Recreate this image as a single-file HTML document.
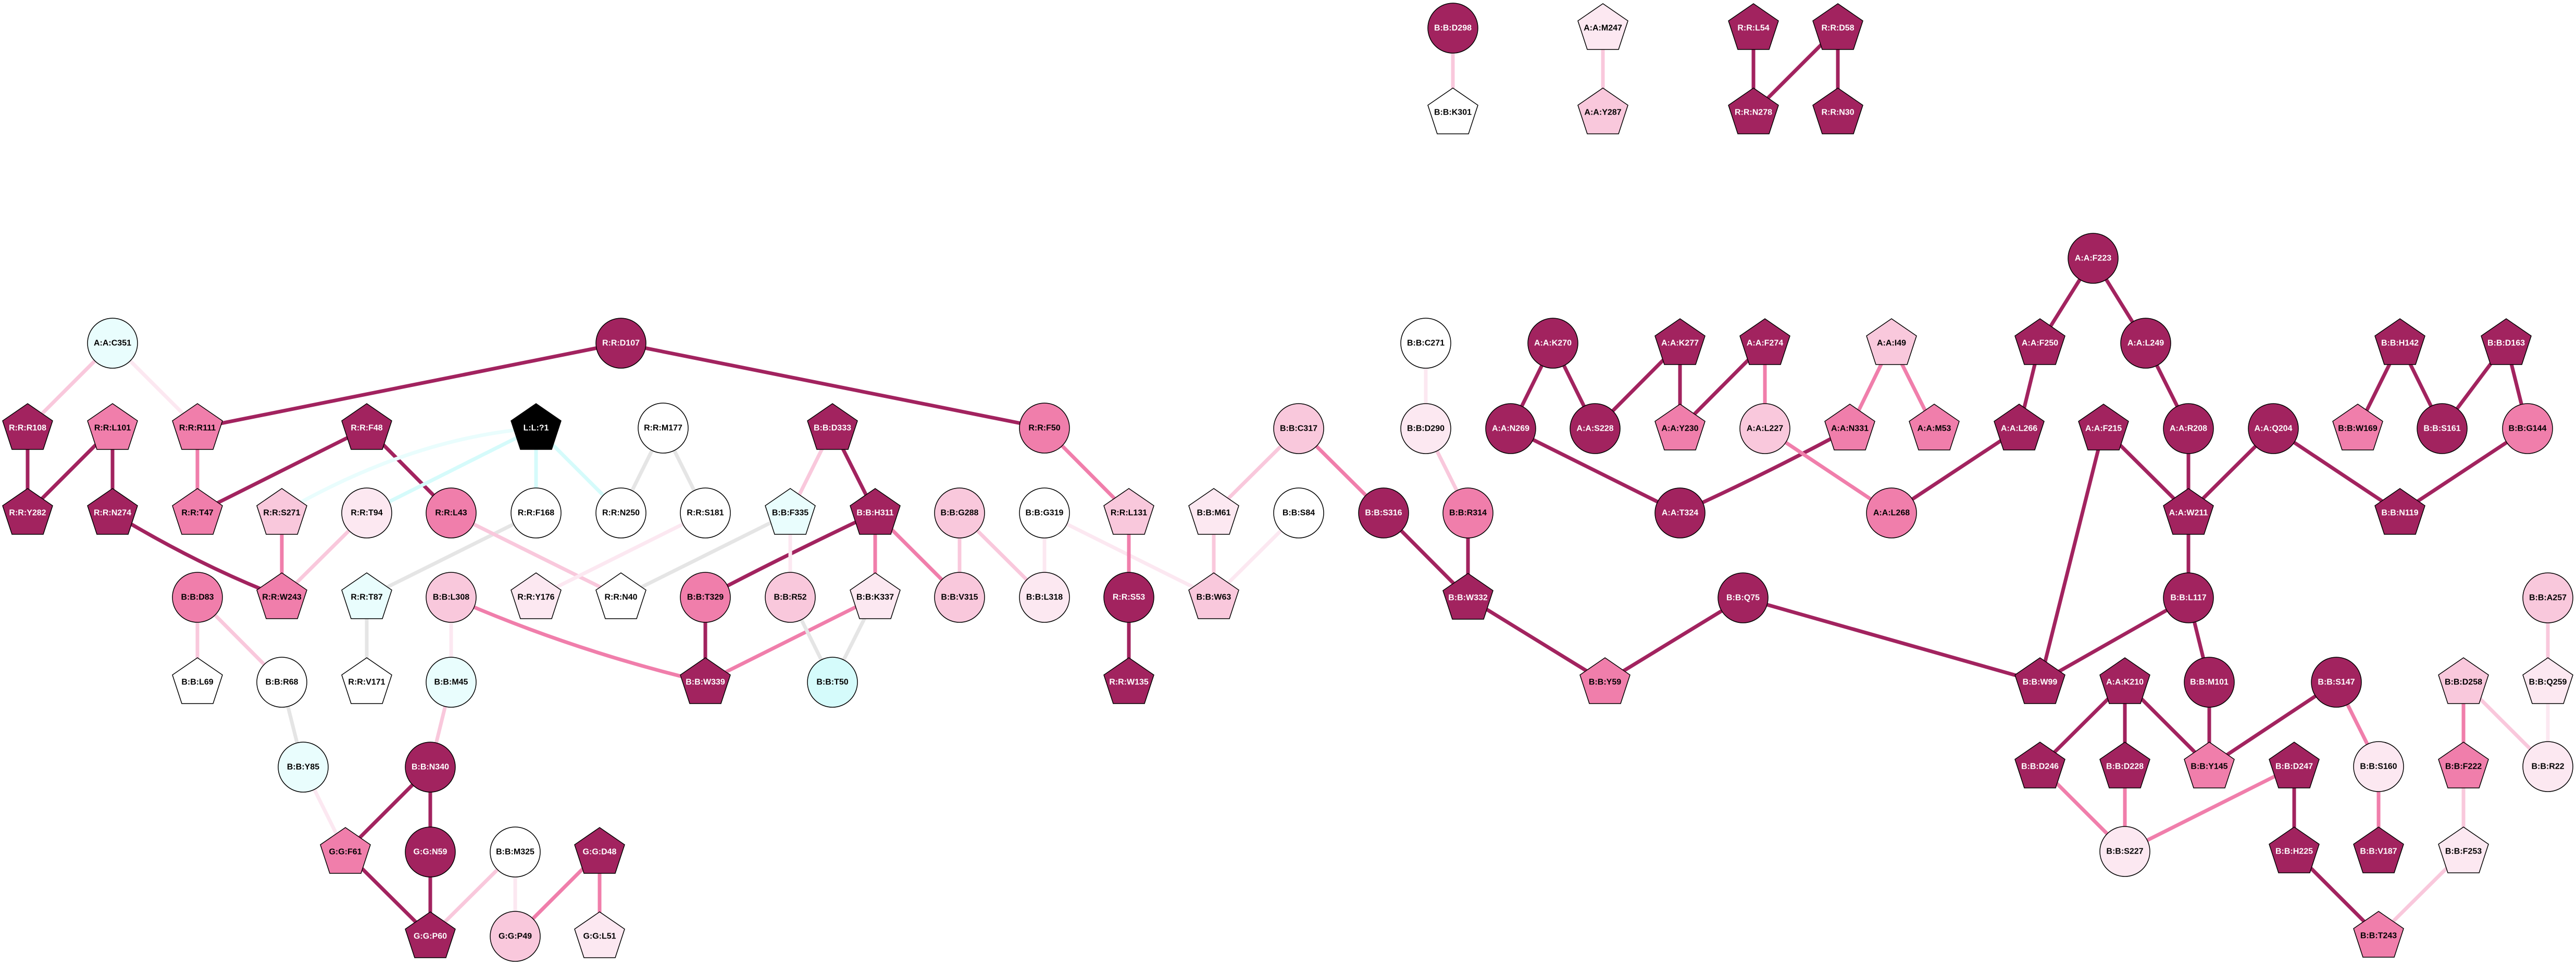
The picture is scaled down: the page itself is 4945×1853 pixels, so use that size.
<!DOCTYPE html>
<html><head><meta charset="utf-8"><style>
html,body{margin:0;padding:0;background:#fff;}
svg{display:block}
text{font-family:"Liberation Sans",sans-serif;font-weight:bold;font-size:16px;text-anchor:middle;dominant-baseline:central}
.e line{stroke-width:7;stroke-linecap:butt}
.D{stroke:#a2235f}.M{stroke:#f07eab}.L{stroke:#f9c8dc}.V{stroke:#fce8f1}.G{stroke:#e5e5e5}.C{stroke:#d5fbfb}
.n circle,.n use{stroke:#000;stroke-width:1.5}
.w{fill:#fff}.k{fill:#000}
</style></head><body>
<svg width="4945" height="1853" viewBox="0 0 4945 1853" xmlns="http://www.w3.org/2000/svg">
<defs><polygon id="p" points="0,-47 48,-14 30,41 -30,41 -48,-14"/></defs>
<g class="e">
<!-- top -->
<line class="L" x1="2789" y1="54" x2="2789" y2="216"/>
<line class="L" x1="3077" y1="54" x2="3077" y2="216"/>
<line class="D" x1="3366" y1="54" x2="3366" y2="216"/>
<line class="D" x1="3528" y1="54" x2="3366" y2="216"/>
<line class="D" x1="3528" y1="54" x2="3528" y2="216"/>
<!-- left -->
<line class="L" x1="216" y1="659" x2="53" y2="822"/>
<line class="V" x1="216" y1="659" x2="379" y2="822"/>
<line class="D" x1="53" y1="822" x2="53" y2="985"/>
<line class="D" x1="216" y1="822" x2="53" y2="985"/>
<line class="D" x1="216" y1="822" x2="216" y2="985"/>
<line class="M" x1="379" y1="822" x2="379" y2="985"/>
<line class="D" x1="379" y1="822" x2="1192" y2="659"/>
<line class="D" x1="704" y1="822" x2="379" y2="985"/>
<line class="D" x1="704" y1="822" x2="866" y2="985"/>
<path d="M1029 822 Q790 840 541 985" fill="none" stroke="#e9fdfd" stroke-width="7"/>
<line class="C" x1="1029" y1="822" x2="704" y2="985"/>
<line class="C" x1="1029" y1="822" x2="1029" y2="985"/>
<line class="C" x1="1029" y1="822" x2="1192" y2="985"/>
<path d="M216 985 Q380 1085 541 1147" fill="none" stroke="#a2235f" stroke-width="7"/>
<line class="M" x1="541" y1="985" x2="541" y2="1147"/>
<line class="L" x1="704" y1="985" x2="541" y2="1147"/>
<line class="G" x1="1029" y1="985" x2="704" y2="1147"/>
<line class="L" x1="866" y1="985" x2="1192" y2="1147"/>
<line class="G" x1="1273" y1="822" x2="1192" y2="985"/>
<line class="G" x1="1273" y1="822" x2="1354" y2="985"/>
<line class="V" x1="1354" y1="985" x2="1029" y2="1147"/>
<line class="G" x1="1192" y1="1147" x2="1517" y2="985"/>
<line class="L" x1="379" y1="1147" x2="379" y2="1310"/>
<line class="L" x1="379" y1="1147" x2="541" y2="1310"/>
<line class="G" x1="704" y1="1147" x2="704" y2="1310"/>
<line class="V" x1="866" y1="1147" x2="866" y2="1310"/>
<path d="M866 1147 Q1100 1250 1354 1310" fill="none" stroke="#f07eab" stroke-width="7"/>
<line class="G" x1="541" y1="1310" x2="582" y2="1473"/>
<line class="L" x1="866" y1="1310" x2="826" y2="1473"/>
<line class="V" x1="582" y1="1473" x2="663" y2="1636"/>
<line class="D" x1="826" y1="1473" x2="663" y2="1636"/>
<line class="D" x1="826" y1="1473" x2="826" y2="1636"/>
<line class="D" x1="663" y1="1636" x2="826" y2="1798"/>
<line class="D" x1="826" y1="1636" x2="826" y2="1798"/>
<line class="L" x1="989" y1="1636" x2="826" y2="1798"/>
<line class="V" x1="989" y1="1636" x2="989" y2="1798"/>
<line class="M" x1="1151" y1="1636" x2="989" y2="1798"/>
<line class="M" x1="1151" y1="1636" x2="1151" y2="1798"/>
<!-- middle -->
<line class="D" x1="1192" y1="659" x2="2005" y2="822"/>
<line class="L" x1="1598" y1="822" x2="1517" y2="985"/>
<line class="D" x1="1598" y1="822" x2="1680" y2="985"/>
<path d="M1680 985 Q1500 1070 1354 1147" fill="none" stroke="#a2235f" stroke-width="7"/>
<line class="M" x1="1680" y1="985" x2="1680" y2="1147"/>
<line class="M" x1="1680" y1="985" x2="1842" y2="1147"/>
<line class="V" x1="1517" y1="985" x2="1517" y2="1147"/>
<line class="D" x1="1354" y1="1147" x2="1354" y2="1310"/>
<line class="M" x1="1680" y1="1147" x2="1354" y2="1310"/>
<line class="G" x1="1517" y1="1147" x2="1598" y2="1310"/>
<line class="G" x1="1680" y1="1147" x2="1598" y2="1310"/>
<line class="L" x1="1842" y1="985" x2="1842" y2="1147"/>
<line class="L" x1="1842" y1="985" x2="2005" y2="1147"/>
<line class="V" x1="2005" y1="985" x2="2005" y2="1147"/>
<line class="V" x1="2005" y1="985" x2="2330" y2="1147"/>
<line class="M" x1="2005" y1="822" x2="2167" y2="985"/>
<line class="M" x1="2167" y1="985" x2="2167" y2="1147"/>
<line class="D" x1="2167" y1="1147" x2="2167" y2="1310"/>
<line class="L" x1="2330" y1="985" x2="2330" y2="1147"/>
<line class="L" x1="2493" y1="823" x2="2330" y2="985"/>
<line class="V" x1="2493" y1="985" x2="2330" y2="1147"/>
<line class="M" x1="2493" y1="823" x2="2656" y2="985"/>
<line class="V" x1="2737" y1="659" x2="2737" y2="823"/>
<line class="L" x1="2737" y1="823" x2="2818" y2="985"/>
<line class="D" x1="2656" y1="985" x2="2818" y2="1148"/>
<line class="D" x1="2818" y1="985" x2="2818" y2="1148"/>
<line class="D" x1="2818" y1="1148" x2="3081" y2="1310"/>
<line class="D" x1="3081" y1="1310" x2="3346" y2="1148"/>
<line class="D" x1="3346" y1="1148" x2="3916" y2="1310"/>
<!-- A group -->
<line class="D" x1="2981" y1="659" x2="2900" y2="823"/>
<line class="D" x1="2981" y1="659" x2="3062" y2="823"/>
<line class="D" x1="3225" y1="659" x2="3062" y2="823"/>
<line class="D" x1="3225" y1="659" x2="3225" y2="823"/>
<line class="D" x1="3388" y1="659" x2="3225" y2="823"/>
<line class="M" x1="3388" y1="659" x2="3388" y2="823"/>
<line class="D" x1="2900" y1="823" x2="3225" y2="985"/>
<path d="M3225 985 Q3400 905 3551 823" fill="none" stroke="#a2235f" stroke-width="7"/>
<line class="M" x1="3388" y1="823" x2="3631" y2="985"/>
<line class="M" x1="3631" y1="659" x2="3551" y2="823"/>
<line class="M" x1="3631" y1="659" x2="3713" y2="823"/>
<line class="D" x1="3631" y1="985" x2="3876" y2="823"/>
<!-- right -->
<line class="D" x1="4018" y1="496" x2="3916" y2="659"/>
<line class="D" x1="4018" y1="496" x2="4119" y2="659"/>
<line class="D" x1="3916" y1="659" x2="3876" y2="823"/>
<line class="D" x1="4119" y1="659" x2="4201" y2="823"/>
<line class="D" x1="4038" y1="823" x2="4201" y2="985"/>
<line class="D" x1="4038" y1="823" x2="3916" y2="1310"/>
<line class="D" x1="4201" y1="823" x2="4201" y2="985"/>
<line class="D" x1="4364" y1="823" x2="4201" y2="985"/>
<line class="D" x1="4364" y1="823" x2="4607" y2="985"/>
<line class="D" x1="4852" y1="823" x2="4607" y2="985"/>
<line class="D" x1="4607" y1="659" x2="4526" y2="823"/>
<line class="D" x1="4607" y1="659" x2="4688" y2="823"/>
<line class="D" x1="4811" y1="659" x2="4688" y2="823"/>
<line class="D" x1="4811" y1="659" x2="4852" y2="823"/>
<line class="D" x1="4201" y1="985" x2="4201" y2="1148"/>
<line class="D" x1="4201" y1="1148" x2="3916" y2="1310"/>
<line class="D" x1="4201" y1="1148" x2="4241" y2="1310"/>
<line class="D" x1="4241" y1="1310" x2="4241" y2="1472"/>
<line class="D" x1="4079" y1="1310" x2="3916" y2="1472"/>
<line class="D" x1="4079" y1="1310" x2="4079" y2="1472"/>
<line class="D" x1="4079" y1="1310" x2="4241" y2="1472"/>
<line class="D" x1="4485" y1="1310" x2="4241" y2="1472"/>
<line class="M" x1="4485" y1="1310" x2="4566" y2="1472"/>
<line class="M" x1="3916" y1="1472" x2="4079" y2="1635"/>
<line class="M" x1="4079" y1="1472" x2="4079" y2="1635"/>
<line class="M" x1="4404" y1="1472" x2="4079" y2="1635"/>
<line class="D" x1="4404" y1="1472" x2="4404" y2="1635"/>
<line class="M" x1="4566" y1="1472" x2="4566" y2="1635"/>
<line class="M" x1="4729" y1="1310" x2="4729" y2="1472"/>
<line class="L" x1="4729" y1="1310" x2="4891" y2="1472"/>
<line class="L" x1="4891" y1="1148" x2="4891" y2="1310"/>
<line class="V" x1="4891" y1="1310" x2="4891" y2="1472"/>
<line class="L" x1="4729" y1="1472" x2="4729" y2="1635"/>
<line class="D" x1="4404" y1="1635" x2="4566" y2="1797"/>
<line class="L" x1="4729" y1="1635" x2="4566" y2="1797"/>
</g>
<g class="n">
<!-- circles: cx cy fill text -->
<circle cx="2789" cy="54" r="48" fill="#a2235f"/><text x="2789" y="54" fill="#fff">B:B:D298</text>
<use href="#p" x="2789" y="216" fill="#fff"/><text x="2789" y="216">B:B:K301</text>
<use href="#p" x="3077" y="54" fill="#fce8f1"/><text x="3077" y="54">A:A:M247</text>
<use href="#p" x="3077" y="216" fill="#f9c8dc"/><text x="3077" y="216">A:A:Y287</text>
<use href="#p" x="3366" y="54" fill="#a2235f"/><text x="3366" y="54" fill="#fff">R:R:L54</text>
<use href="#p" x="3528" y="54" fill="#a2235f"/><text x="3528" y="54" fill="#fff">R:R:D58</text>
<use href="#p" x="3366" y="216" fill="#a2235f"/><text x="3366" y="216" fill="#fff">R:R:N278</text>
<use href="#p" x="3528" y="216" fill="#a2235f"/><text x="3528" y="216" fill="#fff">R:R:N30</text>

<circle cx="216" cy="659" r="48" fill="#e9fdfd"/><text x="216" y="659">A:A:C351</text>
<circle cx="1192" cy="659" r="48" fill="#a2235f"/><text x="1192" y="659" fill="#fff">R:R:D107</text>
<use href="#p" x="53" y="822" fill="#a2235f"/><text x="53" y="822" fill="#fff">R:R:R108</text>
<use href="#p" x="216" y="822" fill="#f07eab"/><text x="216" y="822">R:R:L101</text>
<use href="#p" x="379" y="822" fill="#f07eab"/><text x="379" y="822">R:R:R111</text>
<use href="#p" x="704" y="822" fill="#a2235f"/><text x="704" y="822" fill="#fff">R:R:F48</text>
<use href="#p" x="1029" y="822" fill="#000"/><text x="1029" y="822" fill="#fff">L:L:?1</text>
<circle cx="1273" cy="822" r="48" fill="#fff"/><text x="1273" y="822">R:R:M177</text>
<use href="#p" x="1598" y="822" fill="#a2235f"/><text x="1598" y="822" fill="#fff">B:B:D333</text>
<circle cx="2005" cy="822" r="48" fill="#f07eab"/><text x="2005" y="822">R:R:F50</text>

<use href="#p" x="53" y="985" fill="#a2235f"/><text x="53" y="985" fill="#fff">R:R:Y282</text>
<use href="#p" x="216" y="985" fill="#a2235f"/><text x="216" y="985" fill="#fff">R:R:N274</text>
<use href="#p" x="379" y="985" fill="#f07eab"/><text x="379" y="985">R:R:T47</text>
<use href="#p" x="541" y="985" fill="#f9c8dc"/><text x="541" y="985">R:R:S271</text>
<circle cx="704" cy="985" r="48" fill="#fce8f1"/><text x="704" y="985">R:R:T94</text>
<circle cx="866" cy="985" r="48" fill="#f07eab"/><text x="866" y="985">R:R:L43</text>
<circle cx="1029" cy="985" r="48" fill="#fff"/><text x="1029" y="985">R:R:F168</text>
<circle cx="1192" cy="985" r="48" fill="#fff"/><text x="1192" y="985">R:R:N250</text>
<circle cx="1354" cy="985" r="48" fill="#fff"/><text x="1354" y="985">R:R:S181</text>
<use href="#p" x="1517" y="985" fill="#e9fdfd"/><text x="1517" y="985">B:B:F335</text>
<use href="#p" x="1680" y="985" fill="#a2235f"/><text x="1680" y="985" fill="#fff">B:B:H311</text>
<circle cx="1842" cy="985" r="48" fill="#f9c8dc"/><text x="1842" y="985">B:B:G288</text>
<circle cx="2005" cy="985" r="48" fill="#fff"/><text x="2005" y="985">B:B:G319</text>
<use href="#p" x="2167" y="985" fill="#f9c8dc"/><text x="2167" y="985">R:R:L131</text>
<use href="#p" x="2330" y="985" fill="#fce8f1"/><text x="2330" y="985">B:B:M61</text>

<circle cx="379" cy="1147" r="48" fill="#f07eab"/><text x="379" y="1147">B:B:D83</text>
<use href="#p" x="541" y="1147" fill="#f07eab"/><text x="541" y="1147">R:R:W243</text>
<use href="#p" x="704" y="1147" fill="#e9fdfd"/><text x="704" y="1147">R:R:T87</text>
<circle cx="866" cy="1147" r="48" fill="#f9c8dc"/><text x="866" y="1147">B:B:L308</text>
<use href="#p" x="1029" y="1147" fill="#fce8f1"/><text x="1029" y="1147">R:R:Y176</text>
<use href="#p" x="1192" y="1147" fill="#fff"/><text x="1192" y="1147">R:R:N40</text>
<circle cx="1354" cy="1147" r="48" fill="#f07eab"/><text x="1354" y="1147">B:B:T329</text>
<circle cx="1517" cy="1147" r="48" fill="#f9c8dc"/><text x="1517" y="1147">B:B:R52</text>
<use href="#p" x="1680" y="1147" fill="#fce8f1"/><text x="1680" y="1147">B:B:K337</text>
<circle cx="1842" cy="1147" r="48" fill="#f9c8dc"/><text x="1842" y="1147">B:B:V315</text>
<circle cx="2005" cy="1147" r="48" fill="#fce8f1"/><text x="2005" y="1147">B:B:L318</text>
<circle cx="2167" cy="1147" r="48" fill="#a2235f"/><text x="2167" y="1147" fill="#fff">R:R:S53</text>
<use href="#p" x="2330" y="1147" fill="#f9c8dc"/><text x="2330" y="1147">B:B:W63</text>

<use href="#p" x="379" y="1310" fill="#fff"/><text x="379" y="1310">B:B:L69</text>
<circle cx="541" cy="1310" r="48" fill="#fff"/><text x="541" y="1310">B:B:R68</text>
<use href="#p" x="704" y="1310" fill="#fff"/><text x="704" y="1310">R:R:V171</text>
<circle cx="866" cy="1310" r="48" fill="#e9fdfd"/><text x="866" y="1310">B:B:M45</text>
<use href="#p" x="1354" y="1310" fill="#a2235f"/><text x="1354" y="1310" fill="#fff">B:B:W339</text>
<circle cx="1598" cy="1310" r="48" fill="#d5fbfb"/><text x="1598" y="1310">B:B:T50</text>
<use href="#p" x="2167" y="1310" fill="#a2235f"/><text x="2167" y="1310" fill="#fff">R:R:W135</text>

<circle cx="582" cy="1473" r="48" fill="#e9fdfd"/><text x="582" y="1473">B:B:Y85</text>
<circle cx="826" cy="1473" r="48" fill="#a2235f"/><text x="826" y="1473" fill="#fff">B:B:N340</text>
<use href="#p" x="663" y="1636" fill="#f07eab"/><text x="663" y="1636">G:G:F61</text>
<circle cx="826" cy="1636" r="48" fill="#a2235f"/><text x="826" y="1636" fill="#fff">G:G:N59</text>
<circle cx="989" cy="1636" r="48" fill="#fff"/><text x="989" y="1636">B:B:M325</text>
<use href="#p" x="1151" y="1636" fill="#a2235f"/><text x="1151" y="1636" fill="#fff">G:G:D48</text>
<use href="#p" x="826" y="1798" fill="#a2235f"/><text x="826" y="1798" fill="#fff">G:G:P60</text>
<circle cx="989" cy="1798" r="48" fill="#f9c8dc"/><text x="989" y="1798">G:G:P49</text>
<use href="#p" x="1151" y="1798" fill="#fce8f1"/><text x="1151" y="1798">G:G:L51</text>

<circle cx="2737" cy="659" r="48" fill="#fff"/><text x="2737" y="659">B:B:C271</text>
<circle cx="2981" cy="659" r="48" fill="#a2235f"/><text x="2981" y="659" fill="#fff">A:A:K270</text>
<use href="#p" x="3225" y="659" fill="#a2235f"/><text x="3225" y="659" fill="#fff">A:A:K277</text>
<use href="#p" x="3388" y="659" fill="#a2235f"/><text x="3388" y="659" fill="#fff">A:A:F274</text>
<use href="#p" x="3631" y="659" fill="#f9c8dc"/><text x="3631" y="659">A:A:I49</text>
<circle cx="2493" cy="823" r="48" fill="#f9c8dc"/><text x="2493" y="823">B:B:C317</text>
<circle cx="2737" cy="823" r="48" fill="#fce8f1"/><text x="2737" y="823">B:B:D290</text>
<circle cx="2900" cy="823" r="48" fill="#a2235f"/><text x="2900" y="823" fill="#fff">A:A:N269</text>
<circle cx="3062" cy="823" r="48" fill="#a2235f"/><text x="3062" y="823" fill="#fff">A:A:S228</text>
<use href="#p" x="3225" y="823" fill="#f07eab"/><text x="3225" y="823">A:A:Y230</text>
<circle cx="3388" cy="823" r="48" fill="#f9c8dc"/><text x="3388" y="823">A:A:L227</text>
<use href="#p" x="3551" y="823" fill="#f07eab"/><text x="3551" y="823">A:A:N331</text>
<use href="#p" x="3713" y="823" fill="#f07eab"/><text x="3713" y="823">A:A:M53</text>
<circle cx="2493" cy="985" r="48" fill="#fff"/><text x="2493" y="985">B:B:S84</text>
<circle cx="2656" cy="985" r="48" fill="#a2235f"/><text x="2656" y="985" fill="#fff">B:B:S316</text>
<circle cx="2818" cy="985" r="48" fill="#f07eab"/><text x="2818" y="985">B:B:R314</text>
<circle cx="3225" cy="985" r="48" fill="#a2235f"/><text x="3225" y="985" fill="#fff">A:A:T324</text>
<circle cx="3631" cy="985" r="48" fill="#f07eab"/><text x="3631" y="985">A:A:L268</text>
<use href="#p" x="2818" y="1148" fill="#a2235f"/><text x="2818" y="1148" fill="#fff">B:B:W332</text>
<circle cx="3346" cy="1148" r="48" fill="#a2235f"/><text x="3346" y="1148" fill="#fff">B:B:Q75</text>
<use href="#p" x="3081" y="1310" fill="#f07eab"/><text x="3081" y="1310">B:B:Y59</text>

<circle cx="4018" cy="496" r="48" fill="#a2235f"/><text x="4018" y="496" fill="#fff">A:A:F223</text>
<use href="#p" x="3916" y="659" fill="#a2235f"/><text x="3916" y="659" fill="#fff">A:A:F250</text>
<circle cx="4119" cy="659" r="48" fill="#a2235f"/><text x="4119" y="659" fill="#fff">A:A:L249</text>
<use href="#p" x="4607" y="659" fill="#a2235f"/><text x="4607" y="659" fill="#fff">B:B:H142</text>
<use href="#p" x="4811" y="659" fill="#a2235f"/><text x="4811" y="659" fill="#fff">B:B:D163</text>
<use href="#p" x="3876" y="823" fill="#a2235f"/><text x="3876" y="823" fill="#fff">A:A:L266</text>
<use href="#p" x="4038" y="823" fill="#a2235f"/><text x="4038" y="823" fill="#fff">A:A:F215</text>
<circle cx="4201" cy="823" r="48" fill="#a2235f"/><text x="4201" y="823" fill="#fff">A:A:R208</text>
<circle cx="4364" cy="823" r="48" fill="#a2235f"/><text x="4364" y="823" fill="#fff">A:A:Q204</text>
<use href="#p" x="4526" y="823" fill="#f07eab"/><text x="4526" y="823">B:B:W169</text>
<circle cx="4688" cy="823" r="48" fill="#a2235f"/><text x="4688" y="823" fill="#fff">B:B:S161</text>
<circle cx="4852" cy="823" r="48" fill="#f07eab"/><text x="4852" y="823">B:B:G144</text>
<use href="#p" x="4201" y="985" fill="#a2235f"/><text x="4201" y="985" fill="#fff">A:A:W211</text>
<use href="#p" x="4607" y="985" fill="#a2235f"/><text x="4607" y="985" fill="#fff">B:B:N119</text>
<circle cx="4201" cy="1148" r="48" fill="#a2235f"/><text x="4201" y="1148" fill="#fff">B:B:L117</text>
<circle cx="4891" cy="1148" r="48" fill="#f9c8dc"/><text x="4891" y="1148">B:B:A257</text>
<use href="#p" x="3916" y="1310" fill="#a2235f"/><text x="3916" y="1310" fill="#fff">B:B:W99</text>
<use href="#p" x="4079" y="1310" fill="#a2235f"/><text x="4079" y="1310" fill="#fff">A:A:K210</text>
<circle cx="4241" cy="1310" r="48" fill="#a2235f"/><text x="4241" y="1310" fill="#fff">B:B:M101</text>
<circle cx="4485" cy="1310" r="48" fill="#a2235f"/><text x="4485" y="1310" fill="#fff">B:B:S147</text>
<use href="#p" x="4729" y="1310" fill="#f9c8dc"/><text x="4729" y="1310">B:B:D258</text>
<use href="#p" x="4891" y="1310" fill="#fce8f1"/><text x="4891" y="1310">B:B:Q259</text>
<use href="#p" x="3916" y="1472" fill="#a2235f"/><text x="3916" y="1472" fill="#fff">B:B:D246</text>
<use href="#p" x="4079" y="1472" fill="#a2235f"/><text x="4079" y="1472" fill="#fff">B:B:D228</text>
<use href="#p" x="4241" y="1472" fill="#f07eab"/><text x="4241" y="1472">B:B:Y145</text>
<use href="#p" x="4404" y="1472" fill="#a2235f"/><text x="4404" y="1472" fill="#fff">B:B:D247</text>
<circle cx="4566" cy="1472" r="48" fill="#fce8f1"/><text x="4566" y="1472">B:B:S160</text>
<use href="#p" x="4729" y="1472" fill="#f07eab"/><text x="4729" y="1472">B:B:F222</text>
<circle cx="4891" cy="1472" r="48" fill="#fce8f1"/><text x="4891" y="1472">B:B:R22</text>
<circle cx="4079" cy="1635" r="48" fill="#fce8f1"/><text x="4079" y="1635">B:B:S227</text>
<use href="#p" x="4404" y="1635" fill="#a2235f"/><text x="4404" y="1635" fill="#fff">B:B:H225</text>
<use href="#p" x="4566" y="1635" fill="#a2235f"/><text x="4566" y="1635" fill="#fff">B:B:V187</text>
<use href="#p" x="4729" y="1635" fill="#fce8f1"/><text x="4729" y="1635">B:B:F253</text>
<use href="#p" x="4566" y="1797" fill="#f07eab"/><text x="4566" y="1797">B:B:T243</text>
</g>
</svg>
</body></html>
